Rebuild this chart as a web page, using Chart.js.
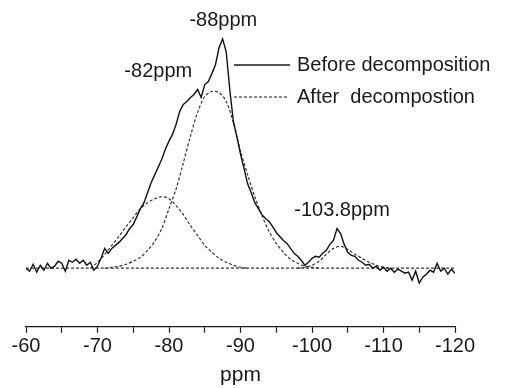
<!DOCTYPE html>
<html>
<head>
<meta charset="utf-8">
<script src="https://cdn.jsdelivr.net/npm/chart.js@4"></script>
<style>
  body { margin: 0; background: #fff; }
  canvas { display: block; }
</style>
</head>
<body>
<canvas id="nmrChart" width="505" height="388"></canvas>
<script>
// spectrum (solid line), ppm every 0.5
const ppm = [-60, -60.5, -61, -61.5, -62, -62.5, -63, -63.5, -64, -64.5, -65, -65.5, -66, -66.5, -67, -67.5, -68, -68.5, -69, -69.5,
  -70, -70.5, -71, -71.5, -72, -72.5, -73, -73.5, -74, -74.5, -75, -75.5, -76, -76.5, -77, -77.5, -78, -78.5, -79, -79.5,
  -80, -80.5, -81, -81.5, -82, -82.5, -83, -83.5, -84, -84.5, -85, -85.5, -86, -86.5, -87, -87.5, -88, -88.5, -89, -89.5,
  -90, -90.5, -91, -91.5, -92, -92.5, -93, -93.5, -94, -94.5, -95, -95.5, -96, -96.5, -97, -97.5, -98, -98.5, -99, -99.5,
  -100, -100.5, -101, -101.5, -102, -102.5, -103, -103.5, -104, -104.5, -105, -105.5, -106, -106.5, -107, -107.5, -108, -108.5, -109, -109.5,
  -110, -110.5, -111, -111.5, -112, -112.5, -113, -113.5, -114, -114.5, -115, -115.5, -116, -116.5, -117, -117.5, -118, -118.5, -119, -119.5, -120];
const before = [0, -3, 4, -4, 3, -2, 5, 0, 2, 7, 5, -3, 8, 6, 9, 5, 8, 3, 6, -2,
  2, 10, 20, 15, 20, 23, 26, 30, 34, 40, 44, 52, 60, 66, 76, 86, 94, 102, 110, 120,
  128, 135, 145, 158, 165, 168, 172, 175, 180, 172, 185, 188, 196, 205, 222, 231, 218, 180, 148, 132,
  115, 100, 85, 76, 66, 60, 54, 50, 47, 42, 36, 32, 28, 25, 20, 15, 12, 8, 3, 6,
  10, 12, 11, 15, 18, 24, 28, 40, 35, 24, 16, 13, 12, 8, 6, 3, 4, 0, 2, -2,
  1, -3, 0, -4, -1, -3, -5, -4, -12, -3, -15, -9, -6, -2, -4, 5, -3, 0, -6, -1, -5];

// fitted components (dashed), ppm every 1
const ppmA = [-69, -70, -71, -72, -73, -74, -75, -76, -77, -78, -79, -80, -81, -82, -83, -84, -85, -86, -87, -88, -89, -90, -91];
const peakA = [0, 6, 14, 23, 32, 42, 51, 60, 66, 70, 72, 70, 63, 54, 43, 33, 23, 16, 10, 6, 3, 1, 0];
const ppmB = [-71, -72, -73, -74, -75, -76, -77, -78, -79, -80, -81, -82, -83, -84, -85, -86, -87, -88, -89, -90, -91, -92, -93, -94, -95, -96, -97, -98, -99, -100, -101];
const peakB = [0, 1, 2, 4, 7, 11, 18, 27, 40, 60, 80, 106, 133, 157, 173, 178, 177, 168, 147, 118, 94, 72, 53, 37, 25, 16, 9, 5, 2, 1, 0];
const ppmC = [-98, -99, -100, -101, -102, -103, -104, -105, -106, -107, -108, -109, -110, -111];
const peakC = [0, 1, 3, 7, 14, 20, 22, 19, 14, 10, 6, 3, 1, 0];
const ppmBase = [-60, -120];
const baseLine = [0, 0];

const xTicks = [-60, -70, -80, -90, -100, -110, -120];

// peak labels: text, ppm, height
const peakLabels = [
  ['-88ppm', -87.6, 250],
  ['-82ppm', -78.5, 198],
  ['-103.8ppm', -104.2, 58]
];

function pts(xs, ys) {
  return xs.map(function(x, i) { return { x: x, y: ys[i] }; });
}

const dashStyle = {
  borderColor: '#333',
  borderWidth: 1.2,
  borderDash: [3, 2],
  pointRadius: 0,
  fill: false,
  tension: 0.3
};

// labels + legend drawn on top
const textPlugin = {
  id: 'textPlugin',
  afterDraw: function(chart) {
    const ctx = chart.ctx;
    const xs = chart.scales.x;
    const ys = chart.scales.y;
    ctx.save();
    ctx.fillStyle = '#1a1a1a';
    ctx.font = '20px "Liberation Sans", Arial, sans-serif';
    ctx.textAlign = 'center';
    ctx.textBaseline = 'middle';
    peakLabels.forEach(function(l) {
      ctx.fillText(l[0], xs.getPixelForValue(l[1]), ys.getPixelForValue(l[2]));
    });

    // legend
    ctx.strokeStyle = '#1a1a1a';
    ctx.lineWidth = 1.4;
    ctx.beginPath();
    ctx.moveTo(234, 65);
    ctx.lineTo(290, 65);
    ctx.stroke();
    ctx.lineWidth = 1.2;
    ctx.setLineDash([3, 2]);
    ctx.beginPath();
    ctx.moveTo(234, 97);
    ctx.lineTo(289, 97);
    ctx.stroke();
    ctx.setLineDash([]);
    ctx.textAlign = 'left';
    ctx.fillText('Before decomposition', 297, 65);
    ctx.fillText('After  decompostion', 297, 97);
    ctx.restore();
  }
};

const area = document.getElementById('nmrChart').getContext('2d');
const nmrChart = new Chart(area, {
  type: 'line',
  data: {
    datasets: [
      {
        label: 'Before decomposition',
        data: pts(ppm, before),
        borderColor: '#111',
        borderWidth: 1.4,
        pointRadius: 0,
        fill: false,
        tension: 0
      },
      Object.assign({ label: 'baseline', data: pts(ppmBase, baseLine) }, dashStyle),
      Object.assign({ label: 'After decompostion', data: pts(ppmA, peakA) }, dashStyle),
      Object.assign({ label: 'peak B', data: pts(ppmB, peakB) }, dashStyle),
      Object.assign({ label: 'peak C', data: pts(ppmC, peakC) }, dashStyle)
    ]
  },
  options: {
    responsive: false,
    animation: false,
    layout: {
      padding: { left: 26, right: 50, top: 20, bottom: 0 }
    },
    plugins: {
      legend: { display: false },
      tooltip: { enabled: false }
    },
    scales: {
      x: {
        type: 'linear',
        min: -120,
        max: -60,
        reverse: true,
        afterFit: function(scale) {
          scale.paddingLeft = 0;
          scale.paddingRight = 0;
        },
        afterBuildTicks: function(scale) {
          var t = [];
          for (var v = -60; v >= -120; v -= 5) t.push({ value: v });
          scale.ticks = t;
        },
        ticks: {
          autoSkip: false,
          maxRotation: 0,
          padding: 2,
          color: '#1a1a1a',
          font: { size: 20, family: '"Liberation Sans", Arial, sans-serif' },
          callback: function(v) { return xTicks.indexOf(v) >= 0 ? String(v) : ''; }
        },
        grid: {
          drawOnChartArea: false,
          tickLength: 6,
          tickColor: '#1a1a1a',
          tickWidth: 1.2
        },
        border: { display: true, color: '#1a1a1a', width: 1.2 },
        title: {
          display: true,
          text: 'ppm',
          color: '#1a1a1a',
          padding: { top: 2, bottom: 0 },
          font: { size: 21, family: '"Liberation Sans", Arial, sans-serif' }
        }
      },
      y: {
        display: false,
        min: -59,
        max: 250
      }
    }
  },
  plugins: [textPlugin]
});
</script>
</body>
</html>
